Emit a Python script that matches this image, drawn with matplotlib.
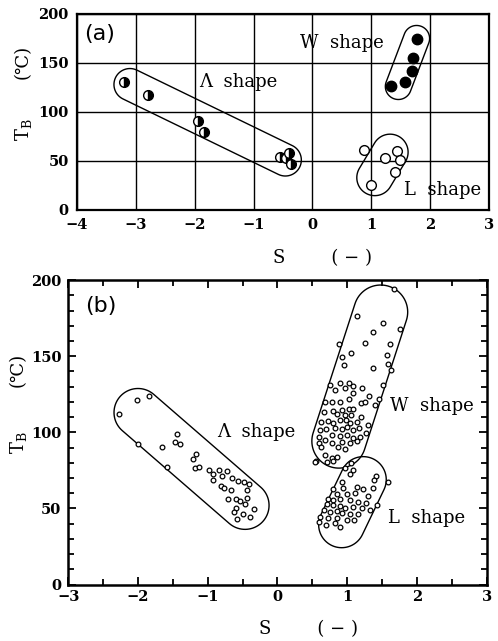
import numpy as np
import matplotlib
matplotlib.use("Agg")
from matplotlib import pyplot as plt
from matplotlib.patches import Polygon

plt.rcParams['mathtext.fontset'] = 'dejavuserif'
SERIF = ['DejaVu Serif', 'DejaVu Sans']

# ---- panel (a) data ----
a_xticks = [-4, -3, -2, -1, 0, 1, 2, 3]
a_yticks = [0, 50, 100, 150, 200]
a_lam_x = [-3.2, -2.8, -1.95, -1.85, -0.55, -0.45, -0.4, -0.37]
a_lam_y = [131, 117, 91, 80, 54, 53, 58, 47]
a_w_x = [1.77, 1.71, 1.69, 1.57, 1.34]
a_w_y = [174, 155, 142, 131, 127]
a_l_x = [0.88, 1.0, 1.23, 1.43, 1.49, 1.40]
a_l_y = [61, 25, 53, 60, 51, 39]

# ---- panel (b) data ----
b_xticks = [-3, -2, -1, 0, 1, 2, 3]
b_yticks = [0, 50, 100, 150, 200]
b_lam_x = [-2.27, -2.01, -1.84, -2.0, -1.66, -1.58, -1.44, -1.47, -1.40, -1.17,
           -1.21, -1.18, -1.12, -0.98, -0.93, -0.92, -0.84, -0.80, -0.73, -0.81,
           -0.76, -0.67, -0.65, -0.57, -0.48, -0.41, -0.43, -0.71, -0.59, -0.54,
           -0.44, -0.60, -0.62, -0.47, -0.50, -0.33, -0.58, -0.39]
b_lam_y = [111.8, 121, 124, 92.6, 90.3, 77, 98.7, 93.9, 92.6, 85.5,
           82.7, 76.8, 77.2, 75, 72.4, 68.6, 75, 71.3, 74.6, 65,
           63.6, 62, 70.2, 68, 67.3, 65.8, 62, 55.9, 56.4, 54.8,
           57, 50.5, 47.6, 52.6, 46, 49.3, 43.2, 44.3]
b_w_x = [1.67, 1.14, 1.52, 1.75, 1.37, 0.88, 1.25, 1.61, 1.06, 0.93,
         1.57, 0.96, 1.37, 1.59, 1.63,
         0.75, 0.89, 1.02, 1.09, 1.21, 0.82, 0.97, 1.09, 1.52, 1.31,
         1.46, 0.68, 0.78, 0.89, 1.02, 1.20, 1.25, 1.40, 0.66, 0.80,
         0.93, 1.02, 1.09, 0.86, 0.97, 1.06, 1.20, 0.63, 0.73, 0.80,
         0.90, 0.98, 1.04, 1.14, 1.30, 0.61, 0.70, 0.83, 0.92, 1.00,
         1.09, 1.17, 1.27, 0.59, 0.78, 0.89, 0.99, 1.09, 1.18, 0.68,
         0.93, 1.04, 1.14, 0.60, 0.63, 0.78, 0.87, 0.97, 0.68, 0.78,
         0.55, 0.71, 0.54, 0.80, 0.85]
b_w_y = [194, 176.4, 172, 167.8, 166, 158, 158.8, 158, 151.8, 149.2,
         150.7, 144.2, 142, 144.8, 140.9,
         131, 132.1, 132.5, 130.4, 128.9, 127.7, 128.9, 125.6, 131, 123.8,
         121.6, 120, 120, 120, 121.6, 119, 120, 117.9, 113.5, 114.2,
         114.6, 115.1, 115.1, 112, 111.3, 111.3, 109.8, 106.9, 107.6, 106.3,
         108, 108, 105.9, 106.9, 104.8, 101.5, 101.9, 102.6, 101.9, 103.3,
         101.5, 102.6, 99.3, 97.1, 98.2, 97.5, 98.2, 96, 97.1, 94.9,
         93.8, 92.7, 94.5, 92.7, 90.5, 93.2, 90.1, 88.8, 85.1, 82.9,
         81.3, 80.7, 80.7, 81.1, 84]
b_l_x = [1.06, 0.97, 1.09, 1.04, 1.41, 1.38, 1.58, 0.92, 1.14, 1.37,
         0.80, 0.94, 1.22, 0.85, 0.99, 1.11, 1.30, 0.73, 0.80, 0.90,
         1.04, 1.16, 1.27, 1.43, 0.71, 0.79, 0.89, 0.97, 1.09, 1.21,
         1.33, 0.67, 0.76, 0.85, 0.93, 1.04, 1.16, 0.61, 0.73, 0.85,
         0.99, 1.10, 0.59, 0.70, 0.83, 0.89]
b_l_y = [79.6, 76.3, 75.2, 72.4, 71.5, 68.6, 67.1, 67.5, 64.2, 63.2,
         62.5, 63.2, 62.5, 59.2, 59.2, 59.9, 58.3, 56.2, 55.5, 56.2,
         55.5, 54.4, 53.3, 52.2, 52.7, 52.2, 51.8, 50, 51.1, 50,
         48.9, 48.9, 47.8, 48.3, 46.8, 46.1, 46.1, 44.5, 43.9, 43.9,
         42.4, 42.4, 41.3, 39.1, 40.2, 38]

# enclosing outlines: (centre 1, centre 2, radius in pixels)
a_groups = [((-3.1, 128), (-0.46, 51), 16),
            ((1.77, 175), (1.46, 126), 13),
            ((1.32, 59), (1.06, 33), 18)]
b_groups = [((-2.0, 113), (-0.465, 52), 24),
            ((1.48, 179), (0.88, 94.2), 27),
            ((1.23, 68.9), (0.92, 39.3), 23)]


def stadium(ax, p1, p2, r):
    # rounded capsule drawn in screen space so the caps stay round
    a, b = ax.transData.transform([p1, p2])
    th = np.arctan2(b[1] - a[1], b[0] - a[0])
    t1 = np.linspace(th - np.pi / 2, th + np.pi / 2, 40)
    t2 = np.linspace(th + np.pi / 2, th + 3 * np.pi / 2, 40)
    pts = np.vstack([np.c_[b[0] + r * np.cos(t1), b[1] + r * np.sin(t1)],
                     np.c_[a[0] + r * np.cos(t2), a[1] + r * np.sin(t2)]])
    pts = ax.transData.inverted().transform(pts)
    ax.add_patch(Polygon(pts, closed=True, fill=False, ec='black', lw=1.0,
                         clip_on=False, zorder=2))


def style_ticklabels(ax):
    for t in ax.get_xticklabels() + ax.get_yticklabels():
        t.set_family('DejaVu Serif')
        t.set_weight('bold')
        t.set_fontsize(10.5)


def axis_labels(ax, xl_x, xl_y, yl_x, tb_y, unit_y):
    ax.set_xlabel('S' + ' ' * 8 + '( \u2212 )', fontsize=13, family=SERIF)
    ax.xaxis.set_label_coords(xl_x, xl_y)
    ax.text(yl_x, tb_y, 'T$_{\\rm B}$', fontsize=13, family=SERIF, rotation=90,
            ha='center', va='center', transform=ax.transAxes)
    ax.text(yl_x, unit_y, '(\u2103)', fontsize=13, family=SERIF, rotation=90,
            ha='center', va='center', transform=ax.transAxes)


fig = plt.figure(figsize=(4.98, 6.41), dpi=100)

# ---------------- (a) ----------------
ax1 = fig.add_axes([0.1546, 0.6724, 0.8273, 0.3058])
ax1.set_xlim(-4, 3)
ax1.set_ylim(0, 200)
ax1.set_xticks(a_xticks)
ax1.set_xticklabels([str(v).replace('-', '\u2212') for v in a_xticks])
ax1.set_yticks(a_yticks)
ax1.grid(True, color='black', lw=1.0)
ax1.tick_params(length=0, pad=6)
for sp in ax1.spines.values():
    sp.set_linewidth(1.6)
style_ticklabels(ax1)

for p1, p2, r in a_groups:
    stadium(ax1, p1, p2, r)
ax1.plot(a_lam_x, a_lam_y, 'o', ms=7, mec='black', mfc='black', mew=1,
         fillstyle='right', markerfacecoloralt='white', zorder=3)
ax1.plot(a_w_x, a_w_y, 'o', ms=7.5, mec='black', mfc='black', zorder=3)
ax1.plot(a_l_x, a_l_y, 'o', ms=7, mec='black', mfc='white', mew=1, zorder=3)

ax1.text(-3.61, 180, '(a)', fontsize=16, family='DejaVu Sans', ha='center', va='center')
ax1.text(0.5, 170, 'W  shape', fontsize=13, family=SERIF, ha='center', va='center')
ax1.text(-1.26, 131, '\u039b  shape', fontsize=13, family=SERIF, ha='center', va='center')
ax1.text(2.21, 20, 'L  shape', fontsize=13, family=SERIF, ha='center', va='center')
axis_labels(ax1, 0.596, -0.2, -0.131, 0.41, 0.755)

# ---------------- (b) ----------------
ax2 = fig.add_axes([0.1371, 0.0881, 0.8402, 0.4750])
ax2.set_xlim(-3, 3)
ax2.set_ylim(0, 200)
ax2.set_xticks(b_xticks)
ax2.set_xticklabels([str(v).replace('-', '\u2212') for v in b_xticks])
ax2.set_xticks(np.arange(-2.5, 3, 1.0), minor=True)
ax2.set_yticks(b_yticks)
ax2.set_yticks(np.arange(0, 201, 10), minor=True)
ax2.tick_params(which='both', direction='in', top=True, right=True, width=1.3)
ax2.tick_params(which='major', length=6, pad=4)
ax2.tick_params(which='minor', length=4)
ax2.tick_params(axis='y', which='major', pad=5)
for sp in ax2.spines.values():
    sp.set_linewidth(1.8)
style_ticklabels(ax2)

for p1, p2, r in b_groups:
    stadium(ax2, p1, p2, r)
for xs, ys in [(b_lam_x, b_lam_y), (b_w_x, b_w_y), (b_l_x, b_l_y)]:
    ax2.plot(xs, ys, 'o', ms=3.4, mec='black', mfc='white', mew=0.9, zorder=3)

ax2.text(-2.53, 183, '(b)', fontsize=16, family='DejaVu Sans', ha='center', va='center')
ax2.text(-0.30, 100, '\u039b  shape', fontsize=13, family=SERIF, ha='center', va='center')
ax2.text(2.22, 117, 'W  shape', fontsize=13, family=SERIF, ha='center', va='center')
ax2.text(2.14, 44, 'L  shape', fontsize=13, family=SERIF, ha='center', va='center')
axis_labels(ax2, 0.573, -0.117, -0.12, 0.465, 0.704)

fig.savefig('out.png', dpi=100)
